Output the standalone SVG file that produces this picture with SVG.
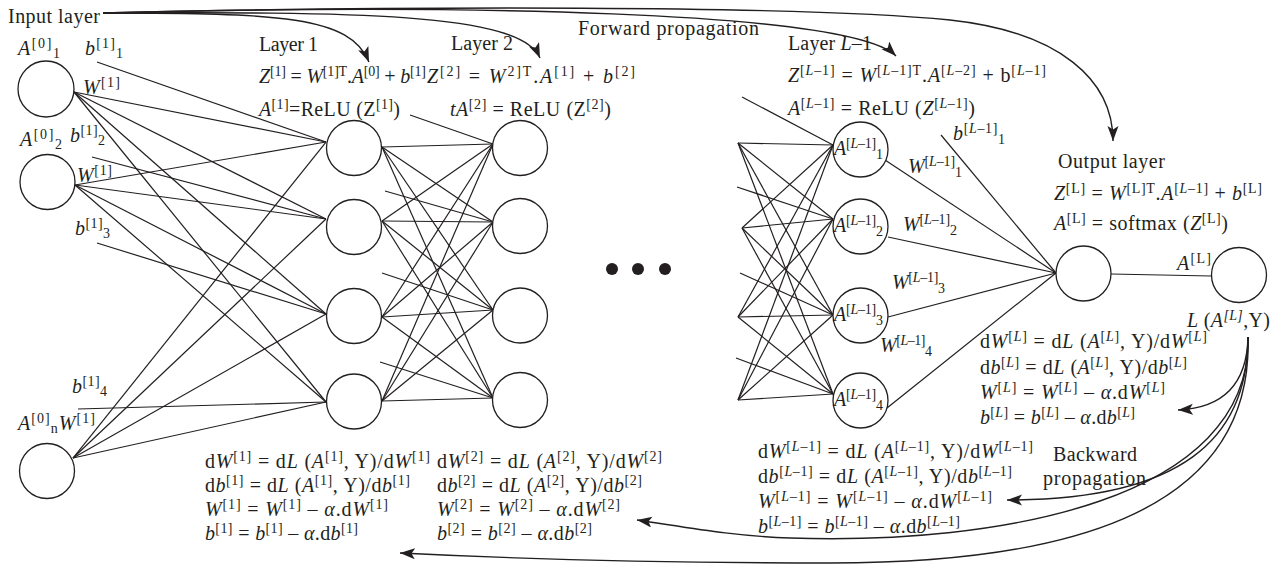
<svg xmlns="http://www.w3.org/2000/svg" width="1283" height="565" viewBox="0 0 1283 565">
<defs>
<style>
.t{font-family:"Liberation Serif","Times New Roman",serif;font-size:20px;fill:#231f20}
.i{font-style:italic}
.s{font-size:14px}
.c line{stroke:#231f20;stroke-width:1.2}
.nd{fill:#fff;stroke:#231f20;stroke-width:1.3}
.ar{fill:none;stroke:#231f20;stroke-width:1.4;marker-end:url(#ah)}
</style>
<marker id="ah" markerUnits="userSpaceOnUse" markerWidth="16" markerHeight="12" refX="15" refY="5.5" orient="auto">
<path d="M0,0 L15,5.5 L0,11 L3.5,5.5 Z" fill="#231f20"/>
</marker>
</defs>
<rect width="1283" height="565" fill="#fff"/>

<g id="connectors" class="c">
<line x1="74" y1="92" x2="326" y2="142"/><line x1="74" y1="92" x2="326" y2="219"/><line x1="74" y1="92" x2="326" y2="314"/><line x1="74" y1="92" x2="326" y2="402"/>
<line x1="75" y1="185" x2="326" y2="142"/><line x1="75" y1="185" x2="326" y2="219"/><line x1="75" y1="185" x2="326" y2="314"/><line x1="75" y1="185" x2="326" y2="402"/>
<line x1="73" y1="458" x2="326" y2="142"/><line x1="73" y1="458" x2="326" y2="219"/><line x1="73" y1="458" x2="326" y2="314"/><line x1="73" y1="458" x2="326" y2="402"/>
<line x1="97" y1="62" x2="326" y2="142"/><line x1="92" y1="157" x2="326" y2="219"/><line x1="97" y1="243" x2="326" y2="314"/><line x1="78" y1="409" x2="326" y2="402"/>
<line x1="382" y1="147" x2="493" y2="144"/><line x1="382" y1="147" x2="493" y2="222"/><line x1="382" y1="147" x2="493" y2="310"/><line x1="382" y1="147" x2="493" y2="398"/>
<line x1="382" y1="221" x2="493" y2="144"/><line x1="382" y1="221" x2="493" y2="222"/><line x1="382" y1="221" x2="493" y2="310"/><line x1="382" y1="221" x2="493" y2="398"/>
<line x1="382" y1="317" x2="493" y2="144"/><line x1="382" y1="317" x2="493" y2="222"/><line x1="382" y1="317" x2="493" y2="310"/><line x1="382" y1="317" x2="493" y2="398"/>
<line x1="382" y1="401" x2="493" y2="144"/><line x1="382" y1="401" x2="493" y2="222"/><line x1="382" y1="401" x2="493" y2="310"/><line x1="382" y1="401" x2="493" y2="398"/>
<line x1="410" y1="115" x2="493" y2="144"/><line x1="385" y1="191" x2="493" y2="222"/><line x1="382" y1="273" x2="493" y2="310"/><line x1="380" y1="362" x2="493" y2="398"/>
<line x1="738" y1="143" x2="833" y2="145"/><line x1="738" y1="143" x2="833" y2="219"/><line x1="738" y1="143" x2="833" y2="315"/><line x1="738" y1="143" x2="833" y2="394"/>
<line x1="742" y1="228" x2="833" y2="145"/><line x1="742" y1="228" x2="833" y2="219"/><line x1="742" y1="228" x2="833" y2="315"/><line x1="742" y1="228" x2="833" y2="394"/>
<line x1="738" y1="317" x2="833" y2="145"/><line x1="738" y1="317" x2="833" y2="219"/><line x1="738" y1="317" x2="833" y2="315"/><line x1="738" y1="317" x2="833" y2="394"/>
<line x1="738" y1="400" x2="833" y2="145"/><line x1="738" y1="400" x2="833" y2="219"/><line x1="738" y1="400" x2="833" y2="315"/><line x1="738" y1="400" x2="833" y2="394"/>
<line x1="742" y1="97" x2="833" y2="145"/><line x1="737" y1="187" x2="833" y2="219"/><line x1="740" y1="273" x2="833" y2="315"/><line x1="736" y1="358" x2="833" y2="394"/>
<line x1="885" y1="160" x2="1056" y2="273"/><line x1="888" y1="237" x2="1056" y2="273"/><line x1="888" y1="317" x2="1056" y2="273"/><line x1="887" y1="408" x2="1056" y2="273"/>
<line x1="941" y1="135" x2="1056" y2="273"/>
<line x1="1111" y1="274" x2="1211" y2="276"/>
<path class="ar" d="M103,13 C280,13 350,16 369,62"/>
<path class="ar" d="M103,13 C350,12 520,12 540,58"/>
<path class="ar" d="M103,13 C450,4 850,10 896,56"/>
<path class="ar" d="M103,13 C400,6 800,5 950,20 C1060,32 1113,80 1113,141"/>
<path class="ar" d="M1248,337 C1247,385 1222,408 1178,410"/>
<path class="ar" d="M1248,337 C1248,440 1180,500 1007,500"/>
<path class="ar" d="M1248,337 C1252,500 1000,545 790,538 C730,536 680,526 637,520"/>
<path class="ar" d="M1248,337 C1254,520 1050,563 830,563 C650,563 500,558 400,553"/>
</g>

<g id="input-1"><circle class="nd" cx="46" cy="89" r="28"/>
<text class="t" x="18" y="55" textLength="42"><tspan class="i">A</tspan><tspan class="s" dy="-7">[0]</tspan><tspan class="s" dy="10">1</tspan></text></g>
<g id="input-2"><circle class="nd" cx="47.5" cy="182" r="27.5"/>
<text class="t" x="20" y="146" textLength="42"><tspan class="i">A</tspan><tspan class="s" dy="-7">[0]</tspan><tspan class="s" dy="10">2</tspan></text></g>
<g id="input-n"><circle class="nd" cx="47" cy="471" r="27.5"/>
<text class="t" x="18" y="430" textLength="77"><tspan class="i">A</tspan><tspan class="s" dy="-7">[0]</tspan><tspan class="s" dy="10">n</tspan><tspan class="i" dy="-3">W</tspan><tspan class="s" dy="-7">[1]</tspan></text></g>

<g id="layer1-1"><circle class="nd" cx="354" cy="148" r="27.5"/></g>
<g id="layer1-2"><circle class="nd" cx="354" cy="227" r="27.5"/></g>
<g id="layer1-3"><circle class="nd" cx="354" cy="316" r="27.5"/></g>
<g id="layer1-4"><circle class="nd" cx="354" cy="401.5" r="27.5"/></g>

<g id="layer2-1"><circle class="nd" cx="520" cy="148" r="27.5"/></g>
<g id="layer2-2"><circle class="nd" cx="520" cy="226" r="27.5"/></g>
<g id="layer2-3"><circle class="nd" cx="520" cy="315.5" r="27.5"/></g>
<g id="layer2-4"><circle class="nd" cx="520" cy="400" r="27.5"/></g>

<g id="ellipsis" fill="#231f20"><circle cx="612" cy="269" r="6"/><circle cx="638" cy="269" r="6"/><circle cx="665" cy="269" r="6"/></g>

<g id="layerLm1-1"><circle class="nd" cx="860.5" cy="149.5" r="27.5"/>
<text class="t" x="834" y="155" textLength="49"><tspan class="i">A</tspan><tspan class="s" dy="-7">[<tspan class="i">L</tspan>–1]</tspan><tspan class="s" dy="11">1</tspan></text></g>
<g id="layerLm1-2"><circle class="nd" cx="860.5" cy="226.5" r="27.5"/>
<text class="t" x="834" y="232" textLength="49"><tspan class="i">A</tspan><tspan class="s" dy="-7">[<tspan class="i">L</tspan>–1]</tspan><tspan class="s" dy="11">2</tspan></text></g>
<g id="layerLm1-3"><circle class="nd" cx="860.5" cy="315.5" r="27.5"/>
<text class="t" x="834" y="321" textLength="49"><tspan class="i">A</tspan><tspan class="s" dy="-7">[<tspan class="i">L</tspan>–1]</tspan><tspan class="s" dy="11">3</tspan></text></g>
<g id="layerLm1-4"><circle class="nd" cx="860.5" cy="400.5" r="27.5"/>
<text class="t" x="834" y="406" textLength="49"><tspan class="i">A</tspan><tspan class="s" dy="-7">[<tspan class="i">L</tspan>–1]</tspan><tspan class="s" dy="11">4</tspan></text></g>

<g id="output-node"><circle class="nd" cx="1083.5" cy="273.5" r="27.5"/></g>
<g id="loss-node"><circle class="nd" cx="1239" cy="275" r="27.5"/>
<text class="t" x="1187" y="327" textLength="83"><tspan class="i">L</tspan><tspan> (</tspan><tspan class="i">A</tspan><tspan class="s i" dy="-7">[L]</tspan><tspan dy="7">,Y)</tspan></text></g>

<g id="labels">
<text class="t" x="8" y="23" textLength="92">Input layer</text>
<text class="t" x="85" y="55" textLength="38"><tspan class="i">b</tspan><tspan class="s" dy="-7">[1]</tspan><tspan class="s" dy="10">1</tspan></text>
<text class="t" x="83" y="94" textLength="37"><tspan class="i">W</tspan><tspan class="s" dy="-7">[1]</tspan></text>
<text class="t" x="70" y="142" textLength="35"><tspan class="i">b</tspan><tspan class="s" dy="-7">[1]</tspan><tspan class="s" dy="10">2</tspan></text>
<text class="t" x="77" y="182" textLength="35"><tspan class="i">W</tspan><tspan class="s" dy="-7">[1]</tspan></text>
<text class="t" x="75" y="235" textLength="35"><tspan class="i">b</tspan><tspan class="s" dy="-7">[1]</tspan><tspan class="s" dy="10">3</tspan></text>
<text class="t" x="72" y="393" textLength="35"><tspan class="i">b</tspan><tspan class="s" dy="-7">[1]</tspan><tspan class="s" dy="10">4</tspan></text>

<text class="t" x="259" y="51" textLength="59">Layer 1</text>
<text class="t" x="259" y="83" textLength="167"><tspan class="i">Z</tspan><tspan class="s" dy="-7">[1]</tspan><tspan dy="7"> = </tspan><tspan class="i">W</tspan><tspan class="s" dy="-7">[1]T</tspan><tspan dy="7">.</tspan><tspan class="i">A</tspan><tspan class="s" dy="-7">[0]</tspan><tspan dy="7"> + </tspan><tspan class="i">b</tspan><tspan class="s" dy="-7">[1]</tspan></text>
<text class="t" x="259" y="116" textLength="141"><tspan class="i">A</tspan><tspan class="s" dy="-7">[1]</tspan><tspan dy="7">=ReLU (Z</tspan><tspan class="s" dy="-7">[1]</tspan><tspan dy="7">)</tspan></text>

<text class="t" x="451" y="50" textLength="62">Layer 2</text>
<text class="t" x="427" y="83" textLength="208"><tspan class="i">Z</tspan><tspan class="s" dy="-7">[2]</tspan><tspan dy="7"> = </tspan><tspan class="i">W</tspan><tspan class="s" dy="-7">2]T</tspan><tspan dy="7">.</tspan><tspan class="i">A</tspan><tspan class="s" dy="-7">[1]</tspan><tspan dy="7"> + </tspan><tspan class="i">b</tspan><tspan class="s" dy="-7">[2]</tspan></text>
<text class="t" x="450" y="116" textLength="161"><tspan class="i">tA</tspan><tspan class="s" dy="-7">[2]</tspan><tspan dy="7"> = ReLU (Z</tspan><tspan class="s" dy="-7">[2]</tspan><tspan dy="7">)</tspan></text>

<text class="t" x="578" y="35" textLength="181">Forward propagation</text>

<text class="t" x="788" y="50" textLength="84">Layer <tspan class="i">L</tspan>–1</text>
<text class="t" x="788" y="82" textLength="258"><tspan class="i">Z</tspan><tspan class="s" dy="-7">[<tspan class="i">L</tspan>–1]</tspan><tspan dy="7"> = </tspan><tspan class="i">W</tspan><tspan class="s" dy="-7">[<tspan class="i">L</tspan>–1]T</tspan><tspan dy="7">.</tspan><tspan class="i">A</tspan><tspan class="s" dy="-7">[<tspan class="i">L</tspan>–2]</tspan><tspan dy="7"> + b</tspan><tspan class="s" dy="-7">[<tspan class="i">L</tspan>–1]</tspan></text>
<text class="t" x="788" y="115" textLength="187"><tspan class="i">A</tspan><tspan class="s" dy="-7">[<tspan class="i">L</tspan>–1]</tspan><tspan dy="7"> = ReLU (</tspan><tspan class="i">Z</tspan><tspan class="s" dy="-7">[<tspan class="i">L</tspan>–1]</tspan><tspan dy="7">)</tspan></text>
<text class="t" x="953" y="140" textLength="52"><tspan class="i">b</tspan><tspan class="s" dy="-7">[<tspan class="i">L</tspan>–1]</tspan><tspan class="s" dy="11">1</tspan></text>
<text class="t" x="908" y="173" textLength="54"><tspan class="i">W</tspan><tspan class="s" dy="-7">[<tspan class="i">L</tspan>–1]</tspan><tspan class="s" dy="11">1</tspan></text>
<text class="t" x="903" y="231" textLength="54"><tspan class="i">W</tspan><tspan class="s" dy="-7">[<tspan class="i">L</tspan>–1]</tspan><tspan class="s" dy="11">2</tspan></text>
<text class="t" x="892" y="289" textLength="53"><tspan class="i">W</tspan><tspan class="s" dy="-7">[<tspan class="i">L</tspan>–1]</tspan><tspan class="s" dy="11">3</tspan></text>
<text class="t" x="880" y="352" textLength="52"><tspan class="i">W</tspan><tspan class="s" dy="-7">[<tspan class="i">L</tspan>–1]</tspan><tspan class="s" dy="11">4</tspan></text>

<text class="t" x="1058" y="168" textLength="107">Output layer</text>
<text class="t" x="1054" y="200" textLength="208"><tspan class="i">Z</tspan><tspan class="s" dy="-7">[L]</tspan><tspan dy="7"> = </tspan><tspan class="i">W</tspan><tspan class="s" dy="-7">[L]T</tspan><tspan dy="7">.</tspan><tspan class="i">A</tspan><tspan class="s" dy="-7">[<tspan class="i">L</tspan>–1]</tspan><tspan dy="7"> + </tspan><tspan class="i">b</tspan><tspan class="s" dy="-7">[L]</tspan></text>
<text class="t" x="1054" y="230" textLength="174"><tspan class="i">A</tspan><tspan class="s" dy="-7">[L]</tspan><tspan dy="7"> = softmax (</tspan><tspan class="i">Z</tspan><tspan class="s" dy="-7">[L]</tspan><tspan dy="7">)</tspan></text>
<text class="t" x="1177" y="270" textLength="34"><tspan class="i">A</tspan><tspan class="s" dy="-7">[L]</tspan></text>

<text class="t" x="980" y="348" textLength="227">d<tspan class="i">W</tspan><tspan class="s" dy="-7">[<tspan class="i">L</tspan>]</tspan><tspan dy="7"> = d</tspan><tspan class="i">L</tspan> (<tspan class="i">A</tspan><tspan class="s" dy="-7">[<tspan class="i">L</tspan>]</tspan><tspan dy="7">, Y)/d</tspan><tspan class="i">W</tspan><tspan class="s" dy="-7">[<tspan class="i">L</tspan>]</tspan></text>
<text class="t" x="980" y="374" textLength="207">d<tspan class="i">b</tspan><tspan class="s" dy="-7">[<tspan class="i">L</tspan>]</tspan><tspan dy="7"> = d</tspan><tspan class="i">L</tspan> (<tspan class="i">A</tspan><tspan class="s" dy="-7">[<tspan class="i">L</tspan>]</tspan><tspan dy="7">, Y)/d</tspan><tspan class="i">b</tspan><tspan class="s" dy="-7">[<tspan class="i">L</tspan>]</tspan></text>
<text class="t" x="980" y="399" textLength="185"><tspan class="i">W</tspan><tspan class="s" dy="-7">[<tspan class="i">L</tspan>]</tspan><tspan dy="7"> = </tspan><tspan class="i">W</tspan><tspan class="s" dy="-7">[<tspan class="i">L</tspan>]</tspan><tspan dy="7"> – </tspan><tspan class="i">α</tspan>.d<tspan class="i">W</tspan><tspan class="s" dy="-7">[<tspan class="i">L</tspan>]</tspan></text>
<text class="t" x="980" y="424" textLength="155"><tspan class="i">b</tspan><tspan class="s" dy="-7">[<tspan class="i">L</tspan>]</tspan><tspan dy="7"> = </tspan><tspan class="i">b</tspan><tspan class="s" dy="-7">[<tspan class="i">L</tspan>]</tspan><tspan dy="7"> – </tspan><tspan class="i">α</tspan>.d<tspan class="i">b</tspan><tspan class="s" dy="-7">[<tspan class="i">L</tspan>]</tspan></text>

<text class="t" x="1053" y="461" textLength="84">Backward</text>
<text class="t" x="1043" y="485" textLength="103">propagation</text>

<text class="t" x="758" y="458" textLength="275">d<tspan class="i">W</tspan><tspan class="s" dy="-7">[<tspan class="i">L</tspan>–1]</tspan><tspan dy="7"> = d</tspan><tspan class="i">L</tspan> (<tspan class="i">A</tspan><tspan class="s" dy="-7">[<tspan class="i">L</tspan>–1]</tspan><tspan dy="7">, Y)/d</tspan><tspan class="i">W</tspan><tspan class="s" dy="-7">[<tspan class="i">L</tspan>–1]</tspan></text>
<text class="t" x="758" y="483" textLength="254">d<tspan class="i">b</tspan><tspan class="s" dy="-7">[<tspan class="i">L</tspan>–1]</tspan><tspan dy="7"> = d</tspan><tspan class="i">L</tspan> (<tspan class="i">A</tspan><tspan class="s" dy="-7">[<tspan class="i">L</tspan>–1]</tspan><tspan dy="7">, Y)/d</tspan><tspan class="i">b</tspan><tspan class="s" dy="-7">[<tspan class="i">L</tspan>–1]</tspan></text>
<text class="t" x="758" y="508" textLength="234"><tspan class="i">W</tspan><tspan class="s" dy="-7">[<tspan class="i">L</tspan>–1]</tspan><tspan dy="7"> = </tspan><tspan class="i">W</tspan><tspan class="s" dy="-7">[<tspan class="i">L</tspan>–1]</tspan><tspan dy="7"> – </tspan><tspan class="i">α</tspan>.d<tspan class="i">W</tspan><tspan class="s" dy="-7">[<tspan class="i">L</tspan>–1]</tspan></text>
<text class="t" x="758" y="533" textLength="202"><tspan class="i">b</tspan><tspan class="s" dy="-7">[<tspan class="i">L</tspan>–1]</tspan><tspan dy="7"> = </tspan><tspan class="i">b</tspan><tspan class="s" dy="-7">[<tspan class="i">L</tspan>–1]</tspan><tspan dy="7"> – </tspan><tspan class="i">α</tspan>.d<tspan class="i">b</tspan><tspan class="s" dy="-7">[<tspan class="i">L</tspan>–1]</tspan></text>

<text class="t" x="205" y="468" textLength="225">d<tspan class="i">W</tspan><tspan class="s" dy="-7">[1]</tspan><tspan dy="7"> = d</tspan><tspan class="i">L</tspan> (<tspan class="i">A</tspan><tspan class="s" dy="-7">[1]</tspan><tspan dy="7">, Y)/d</tspan><tspan class="i">W</tspan><tspan class="s" dy="-7">[1]</tspan></text>
<text class="t" x="205" y="492" textLength="205">d<tspan class="i">b</tspan><tspan class="s" dy="-7">[1]</tspan><tspan dy="7"> = d</tspan><tspan class="i">L</tspan> (<tspan class="i">A</tspan><tspan class="s" dy="-7">[1]</tspan><tspan dy="7">, Y)/d</tspan><tspan class="i">b</tspan><tspan class="s" dy="-7">[1]</tspan></text>
<text class="t" x="205" y="516" textLength="183"><tspan class="i">W</tspan><tspan class="s" dy="-7">[1]</tspan><tspan dy="7"> = </tspan><tspan class="i">W</tspan><tspan class="s" dy="-7">[1]</tspan><tspan dy="7"> – </tspan><tspan class="i">α</tspan>.d<tspan class="i">W</tspan><tspan class="s" dy="-7">[1]</tspan></text>
<text class="t" x="205" y="540" textLength="153"><tspan class="i">b</tspan><tspan class="s" dy="-7">[1]</tspan><tspan dy="7"> = </tspan><tspan class="i">b</tspan><tspan class="s" dy="-7">[1]</tspan><tspan dy="7"> – </tspan><tspan class="i">α</tspan>.d<tspan class="i">b</tspan><tspan class="s" dy="-7">[1]</tspan></text>

<text class="t" x="437" y="468" textLength="225">d<tspan class="i">W</tspan><tspan class="s" dy="-7">[2]</tspan><tspan dy="7"> = d</tspan><tspan class="i">L</tspan> (<tspan class="i">A</tspan><tspan class="s" dy="-7">[2]</tspan><tspan dy="7">, Y)/d</tspan><tspan class="i">W</tspan><tspan class="s" dy="-7">[2]</tspan></text>
<text class="t" x="437" y="492" textLength="205">d<tspan class="i">b</tspan><tspan class="s" dy="-7">[2]</tspan><tspan dy="7"> = d</tspan><tspan class="i">L</tspan> (<tspan class="i">A</tspan><tspan class="s" dy="-7">[2]</tspan><tspan dy="7">, Y)/d</tspan><tspan class="i">b</tspan><tspan class="s" dy="-7">[2]</tspan></text>
<text class="t" x="437" y="516" textLength="183"><tspan class="i">W</tspan><tspan class="s" dy="-7">[2]</tspan><tspan dy="7"> = </tspan><tspan class="i">W</tspan><tspan class="s" dy="-7">[2]</tspan><tspan dy="7"> – </tspan><tspan class="i">α</tspan>.d<tspan class="i">W</tspan><tspan class="s" dy="-7">[2]</tspan></text>
<text class="t" x="437" y="540" textLength="155"><tspan class="i">b</tspan><tspan class="s" dy="-7">[2]</tspan><tspan dy="7"> = </tspan><tspan class="i">b</tspan><tspan class="s" dy="-7">[2]</tspan><tspan dy="7"> – </tspan><tspan class="i">α</tspan>.d<tspan class="i">b</tspan><tspan class="s" dy="-7">[2]</tspan></text>
</g>
</svg>
